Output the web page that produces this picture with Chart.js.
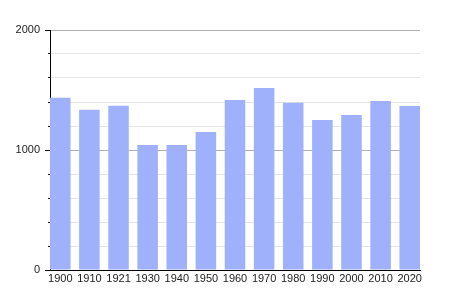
<!DOCTYPE html>
<html>
<head>
<meta charset="utf-8">
<script src="https://cdn.jsdelivr.net/npm/chart.js@4"></script>
<style>
  html, body { margin: 0; padding: 0; background: #fff; }
</style>
</head>
<body>
<canvas id="popChart" width="450" height="300"></canvas>
<script>
// ----- Data -----
const years = ["1900", "1910", "1921", "1930", "1940", "1950", "1960", "1970", "1980", "1990", "2000", "2010", "2020"];
const population = [1436, 1336, 1369, 1042, 1042, 1150, 1417, 1517, 1394, 1250, 1292, 1408, 1367];
const yTicks = [0, 1000, 2000];

// ----- Chart -----
const ctx = document.getElementById("popChart").getContext("2d");
new Chart(ctx, {
  type: "bar",
  data: {
    datasets: [
      {
        data: population.map((v, i) => ({ x: i, y: v })),
        backgroundColor: "#9fb1fa",
        borderWidth: 0,
        categoryPercentage: 1,
        barPercentage: 0.705,
      },
    ],
  },
  options: {
    responsive: false,
    animation: false,
    devicePixelRatio: 1,
    layout: { padding: { top: 30, right: 30, left: 0, bottom: 0 } },
    plugins: { legend: { display: false }, tooltip: { enabled: false } },
    scales: {
      x: {
        type: "linear",
        offset: false,
        min: -0.353,
        max: 12.353,
        grid: { display: false, drawTicks: false, offset: false },
        border: { color: "#000", width: 1 },
        ticks: {
          stepSize: 1,
          includeBounds: false,
          autoSkip: false,
          maxRotation: 0,
          padding: 2,
          color: "#222",
          font: { family: "Liberation Sans", size: 11 },
          callback: (v) => (Number.isInteger(v) ? years[v] : ""),
        },
        afterFit: (scale) => { scale.height = 30; },
      },
      y: {
        min: 0,
        max: 2000,
        grid: {
          color: (c) => (yTicks.includes(c.tick.value) && c.tick.value > 0 ? "#b0b0b0" : "#e4e4e4"),
          tickColor: "#000",
          tickLength: 5,
          // minor ticks only show the 2px next to the axis
          tickBorderDash: (c) => (yTicks.includes(c.tick.value) ? [] : [0, 3, 2, 100]),
        },
        border: { color: "#000", width: 1 },
        ticks: {
          stepSize: 200,
          padding: 5,
          color: "#222",
          font: { family: "Liberation Sans", size: 11 },
          callback: (v) => (yTicks.includes(v) ? String(v) : ""),
        },
        afterFit: (scale) => { scale.width = 50; },
      },
    },
  },
});
</script>
</body>
</html>
